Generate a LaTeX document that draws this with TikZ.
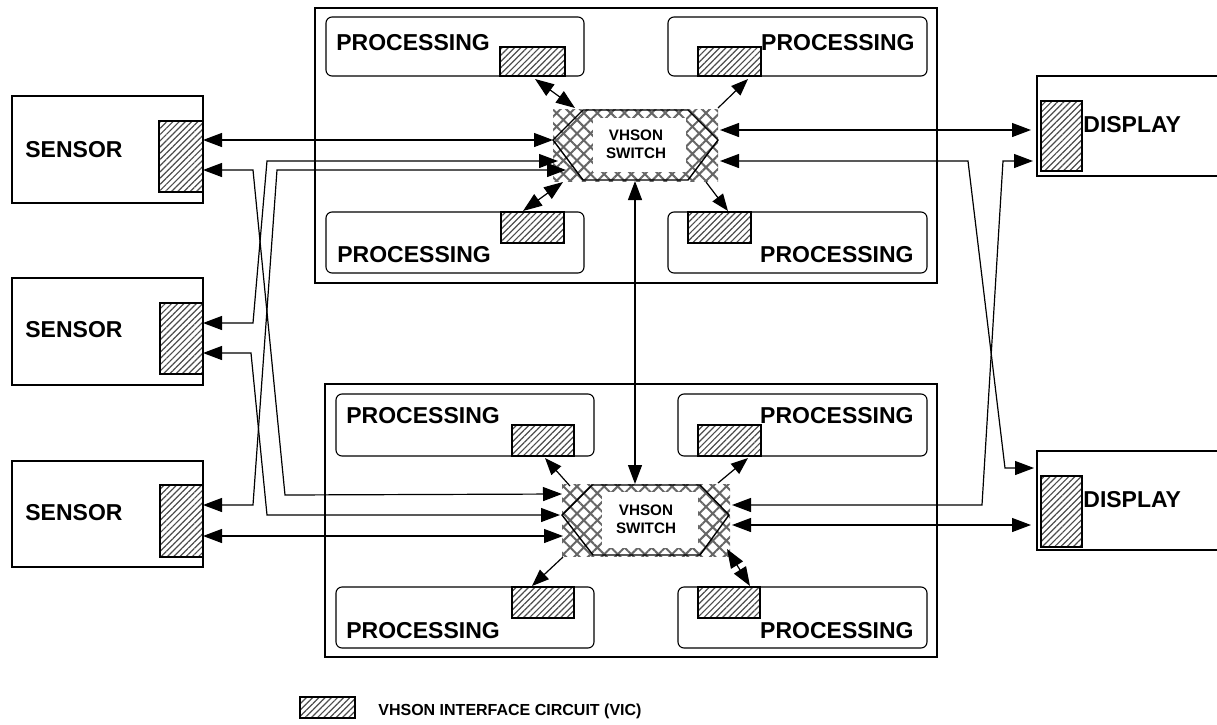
\documentclass[tikz,border=0pt]{standalone}
\usepackage{fontspec}
\setmainfont{Liberation Sans}
\usetikzlibrary{arrows.meta,patterns.meta,fit}

\tikzset{
  outerframe/.style={draw, inner sep=0pt, line width=0.55pt},
  procbox/.style={draw, rounded corners=3pt, inner sep=0pt, line width=0.55pt},
  unitbox/.style={draw, inner sep=0pt, line width=0.55pt},
  vic/.style={draw, inner sep=0pt, line width=0.55pt,
    pattern={Lines[angle=45,distance=2.2pt,line width=0.6pt]}, pattern color=black!70},
  swfill/.style={inner sep=0pt,
    pattern={Hatch[angle=45,distance=4.8pt,line width=1pt]}, pattern color=black!60},
  hexline/.style={draw, line width=0.7pt},
  boxtext/.style={font=\fontsize{11.5}{13}\selectfont\bfseries, inner sep=0pt},
  swtext/.style={font=\fontsize{7.6}{9.2}\selectfont\bfseries, align=center, inner sep=0pt},
  legendtext/.style={font=\fontsize{8}{10}\selectfont\bfseries, inner sep=0pt},
  biarrow/.style={line width=0.6pt, {Triangle[length=9.5pt,width=7pt]}-{Triangle[length=9.5pt,width=7pt]}},
  onearrow/.style={line width=0.6pt, -{Triangle[length=8.5pt,width=6.5pt]}}
}

\begin{document}
\begin{tikzpicture}[x=0.5pt,y=-0.5pt]
    \useasboundingbox (0,0) rectangle (1217,724);

    % the two frames
    \node[outerframe, fit={(315,8)(937,283)}] (topframe) {};
    \node[outerframe, fit={(325,384)(937,657)}] (botframe) {};

    % processing units in the top frame
    \node[procbox, fit={(326,17)(584,76)}] (tp1) {};
    \node[procbox, fit={(668,17)(927,76)}] (tp2) {};
    \node[procbox, fit={(326,212)(584,273)}] (tp3) {};
    \node[procbox, fit={(668,212)(927,273)}] (tp4) {};
    \node[vic, fit={(500,47)(565,76)}] (tv1) {};
    \node[vic, fit={(698,47)(761,76)}] (tv2) {};
    \node[vic, fit={(501,212)(564,243)}] (tv3) {};
    \node[vic, fit={(688,212)(751,243)}] (tv4) {};
    \node[boxtext, anchor=base west] (tt1) at (336,50) {PROCESSING};
    \node[boxtext, anchor=base east] (tt2) at (915,50) {PROCESSING};
    \node[boxtext, anchor=base west] (tt3) at (337,262) {PROCESSING};
    \node[boxtext, anchor=base east] (tt4) at (914,262) {PROCESSING};

    % processing units in the bottom frame
    \node[procbox, fit={(336,394)(594,456)}] (bp1) {};
    \node[procbox, fit={(678,394)(927,456)}] (bp2) {};
    \node[procbox, fit={(336,587)(594,648)}] (bp3) {};
    \node[procbox, fit={(678,587)(927,648)}] (bp4) {};
    \node[vic, fit={(512,425)(574,456)}] (bv1) {};
    \node[vic, fit={(698,425)(761,456)}] (bv2) {};
    \node[vic, fit={(512,587)(574,618)}] (bv3) {};
    \node[vic, fit={(698,587)(760,618)}] (bv4) {};
    \node[boxtext, anchor=base west] (bt1) at (346,423) {PROCESSING};
    \node[boxtext, anchor=base east] (bt2) at (914,423) {PROCESSING};
    \node[boxtext, anchor=base west] (bt3) at (346,638) {PROCESSING};
    \node[boxtext, anchor=base east] (bt4) at (914,638) {PROCESSING};

    % the switches
    \node[swfill, fit={(553,109)(718,181)}] (tsw) {};
    \fill[white] (593,118) rectangle (686,172);
    \draw[hexline] (553,140) -- (583,110) -- (688,110) -- (718,140) -- (688,180) -- (583,180) -- cycle;
    \node[swtext] (tswtext) at (636,144) {VHSON\\SWITCH};

    \node[swfill, fit={(562,484)(730,556)}] (bsw) {};
    \fill[white] (602,492) rectangle (698,548);
    \draw[hexline] (562,515) -- (592,485) -- (700,485) -- (729,515) -- (700,555) -- (593,555) -- cycle;
    \node[swtext] (bswtext) at (646,519) {VHSON\\SWITCH};

    % sensors
    \node[unitbox, fit={(12,96)(203,203)}] (s1) {};
    \node[unitbox, fit={(12,278)(203,385)}] (s2) {};
    \node[unitbox, fit={(12,461)(203,567)}] (s3) {};
    \node[vic, fit={(159,121)(203,192)}] (s1vic) {};
    \node[vic, fit={(160,303)(203,374)}] (s2vic) {};
    \node[vic, fit={(160,485)(203,557)}] (s3vic) {};
    \node[boxtext, anchor=base west] (s1text) at (25,157) {SENSOR};
    \node[boxtext, anchor=base west] (s2text) at (25,337) {SENSOR};
    \node[boxtext, anchor=base west] (s3text) at (25,520) {SENSOR};

    % displays
    \node[unitbox, fit={(1037,76)(1232,176)}] (d1) {};
    \node[unitbox, fit={(1037,451)(1232,550)}] (d2) {};
    \node[vic, fit={(1041,101)(1082,171)}] (d1vic) {};
    \node[vic, fit={(1041,476)(1082,547)}] (d2vic) {};
    \node[boxtext, anchor=base west] (d1text) at (1083,132) {DISPLAY};
    \node[boxtext, anchor=base west] (d2text) at (1083,507) {DISPLAY};

    % ports and bends
    \coordinate (s1a) at (203,140);
    \coordinate (s1b) at (203,170);
    \coordinate (s2a) at (203,323);
    \coordinate (s2b) at (203,353);
    \coordinate (s3a) at (203,505);
    \coordinate (s3b) at (203,536);
    \coordinate (tswl1) at (553,140);
    \coordinate (tswl2) at (558,161);
    \coordinate (tswl3) at (566,170);
    \coordinate (bswl1) at (562,494);
    \coordinate (bswl2) at (560,515);
    \coordinate (bswl3) at (563,536);
    \coordinate (tswr1) at (720,130);
    \coordinate (tswr2) at (720,161);
    \coordinate (bswr1) at (732,505);
    \coordinate (bswr2) at (732,525);
    \coordinate (d1a) at (1031,130);
    \coordinate (d1b) at (1033,161);
    \coordinate (d2a) at (1034,468);
    \coordinate (d2b) at (1031,525);

    % sensor links
    \draw[biarrow] (s1a) -- (tswl1);
    \draw[biarrow] (s1b) -- (253,170) -- (285,495) -- (bswl1);
    \draw[biarrow] (tswl2) -- (267,161) -- (253,323) -- (s2a);
    \draw[biarrow] (tswl3) -- (277,170) -- (253,505) -- (s3a);
    \draw[biarrow] (s2b) -- (251,353) -- (267,515) -- (bswl2);
    \draw[biarrow] (s3b) -- (bswl3);

    % display links
    \draw[biarrow] (tswr1) -- (d1a);
    \draw[biarrow] (tswr2) -- (968,161) -- (1005,468) -- (d2a);
    \draw[biarrow] (bswr1) -- (982,505) -- (1003,161) -- (d1b);
    \draw[biarrow] (bswr2) -- (d2b);

    % switch to switch
    \draw[biarrow] (635,181) -- (635,484);

    % switch to processing
    \draw[biarrow] (575,108) -- (535,79);
    \draw[onearrow] (718,108) -- (748,79);
    \draw[biarrow] (563,182) -- (523,211);
    \draw[onearrow] (706,182) -- (728,211);
    \draw[onearrow] (570,486) -- (545,458);
    \draw[onearrow] (718,483) -- (748,458);
    \draw[onearrow] (563,557) -- (532,586);
    \draw[biarrow] (727,549) -- (750,586);

    % legend
    \node[vic, fit={(300,697)(355,718)}] (legvic) {};
    \node[legendtext, anchor=base west] (legtext) at (378,715) {VHSON INTERFACE CIRCUIT (VIC)};

\end{tikzpicture}
\end{document}
